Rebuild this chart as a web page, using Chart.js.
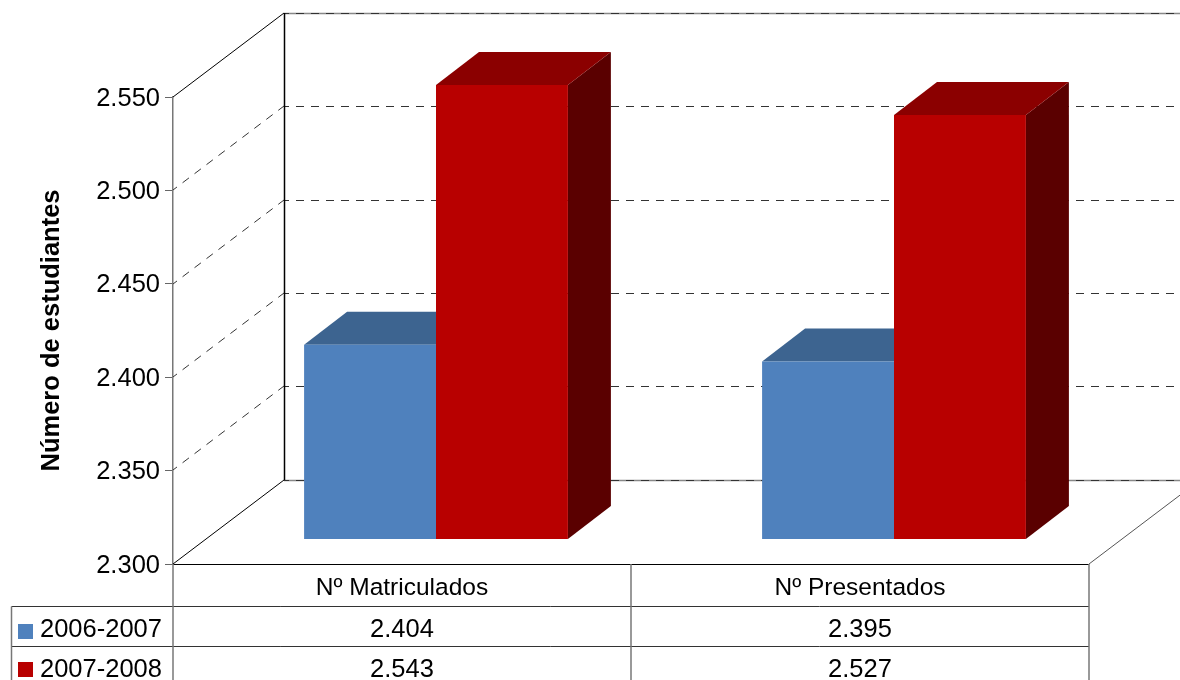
<!DOCTYPE html>
<html>
<head>
<meta charset="utf-8">
<title>Número de estudiantes</title>
<script src="https://cdn.jsdelivr.net/npm/chart.js@4/dist/chart.umd.min.js"></script>
<style>
    html, body { margin: 0; padding: 0; background: #fff; overflow: hidden; }
    canvas { display: block; }
</style>
</head>
<body>
<canvas id="chart" width="1180" height="680"></canvas>
<script>
const categories = ["Nº Matriculados", "Nº Presentados"];
const seriesNames = ["2006-2007", "2007-2008"];
const values2006 = [2404, 2395];
const values2007 = [2543, 2527];
const yTicks = [2300, 2350, 2400, 2450, 2500, 2550];

const FONT = "'Liberation Sans', Arial, sans-serif";
const frontColors = ["#4f81bd", "#b80000"];
const topColors = ["#3d6490", "#8b0000"];
const sideColors = ["#3a5f8c", "#5a0000"];

// 3D offsets, floor depth and how far the bars sit from the front plane
const wallDx = 111, wallDy = 84;
const barDx = 34, barDy = 25;
const sideDx = 43, sideDy = 33;

function fmt(v) {
    return v.toLocaleString("de-DE");
}

function line(ctx, x1, y1, x2, y2) {
    ctx.beginPath();
    ctx.moveTo(x1, y1);
    ctx.lineTo(x2, y2);
    ctx.stroke();
}

function poly(ctx, pts, color) {
    ctx.fillStyle = color;
    ctx.beginPath();
    pts.forEach(function (p, i) {
        if (i === 0) ctx.moveTo(p[0], p[1]);
        else ctx.lineTo(p[0], p[1]);
    });
    ctx.closePath();
    ctx.fill();
}

const box3d = {
    id: "box3d",
    afterLayout(chart) {
        // tick labels sit a little lower than the canvas "middle" baseline gives
        const y = chart.scales.y;
        if (y._labelsShifted) return;
        y._labelsShifted = true;
        const drawLabels = y.drawLabels;
        y.drawLabels = function (area) {
            chart.ctx.save();
            chart.ctx.translate(0, 1.5);
            drawLabels.call(this, area);
            chart.ctx.restore();
        };
    },
    beforeDatasetsDraw(chart) {
        const ctx = chart.ctx;
        const area = chart.chartArea;
        const y = chart.scales.y;
        const backX = area.left + wallDx;

        ctx.save();
        // grey base under the top and bottom lines of the back wall
        ctx.strokeStyle = "#888";
        ctx.lineWidth = 1.5;
        line(ctx, backX, area.top - wallDy + 0.5, 1200, area.top - wallDy + 0.5);
        line(ctx, backX, area.bottom - wallDy + 0.5, 1200, area.bottom - wallDy + 0.5);

        // dashed lines on the left and back walls
        ctx.lineWidth = 1;
        ctx.strokeStyle = "#333";
        ctx.setLineDash([8, 7]);
        ctx.lineDashOffset = 3;
        yTicks.forEach(function (t) {
            const py = Math.round(y.getPixelForValue(t) - 0.2);
            if (t !== yTicks[0] && t !== yTicks[yTicks.length - 1]) {
                line(ctx, area.left, py, backX, py - wallDy);
            }
            line(ctx, backX, py - wallDy + 0.5, 1200, py - wallDy + 0.5);
        });
        ctx.setLineDash([]);

        // solid edges
        ctx.strokeStyle = "#000";
        ctx.lineWidth = 1.5;
        line(ctx, backX + 0.5, area.top - wallDy, backX + 0.5, area.bottom - wallDy);
        ctx.lineWidth = 1;
        line(ctx, area.left, area.top, backX, area.top - wallDy);
        line(ctx, area.left, area.bottom, backX, area.bottom - wallDy);
        ctx.strokeStyle = "#555";
        line(ctx, area.right, area.bottom, area.right + wallDx, area.bottom - wallDy);

        // side and top faces go under the fronts of the bars
        chart.data.datasets.forEach(function (ds, d) {
            chart.getDatasetMeta(d).data.forEach(function (bar) {
                const l = bar.x - bar.width / 2 + barDx;
                const r = bar.x + bar.width / 2 + barDx;
                const t = bar.y - barDy;
                const b = area.bottom - barDy;
                poly(ctx, [[r, t], [r + sideDx, t - sideDy], [r + sideDx, b - sideDy], [r, b]], sideColors[d]);
                poly(ctx, [[l, t], [l + sideDx, t - sideDy], [r + sideDx, t - sideDy], [r, t]], topColors[d]);
            });
        });
        ctx.restore();
    },
    beforeDatasetDraw(chart) {
        chart.ctx.save();
        chart.ctx.translate(barDx, -barDy);
    },
    afterDatasetDraw(chart) {
        chart.ctx.restore();
    },
    afterDraw(chart) {
        // data table under the chart
        const ctx = chart.ctx;
        const area = chart.chartArea;
        const x = chart.scales.x;
        const tableLeft = 11.5, row1 = 606.5, row2 = 646.5;
        const mid = (x.getPixelForValue(0) + x.getPixelForValue(1)) / 2;

        ctx.save();
        ctx.lineWidth = 1;
        ctx.strokeStyle = "#000";
        line(ctx, area.left, area.bottom + 0.5, area.right, area.bottom + 0.5);
        ctx.strokeStyle = "#333";
        line(ctx, tableLeft, row1, area.right, row1);
        line(ctx, tableLeft, row2, area.right, row2);
        ctx.strokeStyle = "#777";
        ctx.lineWidth = 1.5;
        line(ctx, tableLeft, row1, tableLeft, 680);
        line(ctx, area.left, area.bottom, area.left, 680);
        line(ctx, mid, area.bottom, mid, 680);
        line(ctx, area.right, area.bottom, area.right, 680);

        ctx.font = "25.5px " + FONT;
        ctx.textBaseline = "middle";
        [values2006, values2007].forEach(function (vals, i) {
            const rowY = i === 0 ? 628 : 668;
            const swatchY = i === 0 ? 624 : 662;
            ctx.fillStyle = frontColors[i];
            ctx.fillRect(18, swatchY, 15, 15);
            ctx.fillStyle = "#000";
            ctx.textAlign = "left";
            ctx.fillText(seriesNames[i], 40, rowY + 1.5);
            ctx.textAlign = "center";
            vals.forEach(function (v, j) {
                ctx.fillText(fmt(v), x.getPixelForValue(j), rowY + 1.5);
            });
        });
        ctx.restore();
    }
};

new Chart(document.getElementById("chart").getContext("2d"), {
    type: "bar",
    data: {
        labels: categories,
        datasets: [
            { label: seriesNames[0], data: values2006, backgroundColor: frontColors[0], borderWidth: 0 },
            { label: seriesNames[1], data: values2007, backgroundColor: frontColors[1], borderWidth: 0 }
        ]
    },
    options: {
        responsive: false,
        animation: false,
        layout: { padding: { top: 97, right: 91, bottom: 0, left: 0 } },
        plugins: {
            legend: { display: false },
            tooltip: { enabled: false }
        },
        datasets: {
            bar: { categoryPercentage: 0.576, barPercentage: 1 }
        },
        scales: {
            x: {
                afterFit(scale) { scale.height = 116; },
                grid: { display: false },
                border: { display: false },
                ticks: { color: "#000", padding: 2, maxRotation: 0, font: { family: FONT, size: 24.5 } }
            },
            y: {
                min: 2300,
                max: 2550,
                afterFit(scale) { scale.width = 173; },
                afterBuildTicks(scale) { scale.ticks = yTicks.map(function (v) { return { value: v }; }); },
                grid: { drawOnChartArea: false, tickLength: 8, color: "#666" },
                border: { color: "#777", width: 1.5 },
                title: {
                    display: true,
                    text: "Número de estudiantes",
                    color: "#000",
                    padding: { top: 37, bottom: 0 },
                    font: { family: FONT, size: 25.5, weight: "bold" }
                },
                ticks: {
                    color: "#000",
                    padding: 5,
                    font: { family: FONT, size: 25.5 },
                    callback: function (v) { return fmt(v); }
                }
            }
        }
    },
    plugins: [box3d]
});
</script>
</body>
</html>
